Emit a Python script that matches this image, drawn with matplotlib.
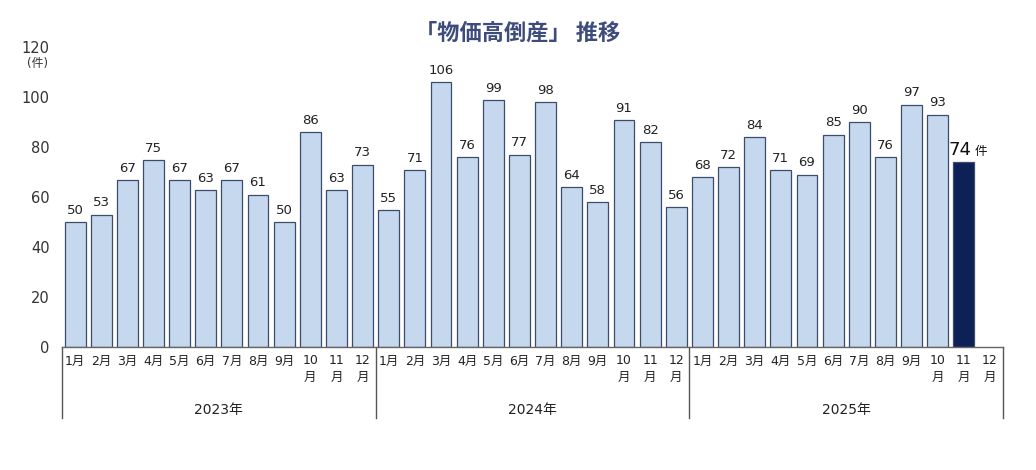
import matplotlib.pyplot as plt
import numpy as np

plt.rcParams['font.family'] = ['DejaVu Sans', 'Noto Sans CJK JP']

years = ["2023年", "2024年", "2025年"]
months = ["1月", "2月", "3月", "4月", "5月", "6月", "7月", "8月", "9月", "10\n月", "11\n月", "12\n月"]
counts_2023 = [50, 53, 67, 75, 67, 63, 67, 61, 50, 86, 63, 73]
counts_2024 = [55, 71, 106, 76, 99, 77, 98, 64, 58, 91, 82, 56]
counts_2025 = [68, 72, 84, 71, 69, 85, 90, 76, 97, 93, 74]
yticks = [0, 20, 40, 60, 80, 100, 120]

light = "#c5d8ee"
dark = "#0d2156"
edge = "#3c4c6c"

fig = plt.figure(figsize=(10.36, 4.7), dpi=100)
ax = fig.add_axes([62 / 1036, 1 - 347 / 470, (1003 - 62) / 1036, 300 / 470])

values = counts_2023 + counts_2024 + counts_2025
n = len(years) * len(months)
x = np.arange(len(values))
colors = [light] * (len(values) - 1) + [dark]
ax.bar(x, values, width=0.8, color=colors, edgecolor=edge, linewidth=0.9)

for i, v in enumerate(values[:-1]):
    ax.text(i, v + 2, str(v), ha='center', va='bottom', fontsize=9.5, color='#222222')
last = len(values) - 1
ax.annotate(str(values[-1]), (last, values[-1]), xytext=(-3, 2), textcoords='offset points',
            ha='center', va='bottom', fontsize=13, color='#111111')
ax.annotate("件", (last, values[-1]), xytext=(12, 3), textcoords='offset points',
            ha='center', va='bottom', fontsize=9, color='#111111')

ax.set_xlim(-0.5, n - 0.5)
ax.set_ylim(0, 120)
ax.set_yticks(yticks)
ax.set_yticklabels([str(t) for t in yticks], fontsize=10.5, color='#333333')
ax.tick_params(axis='y', length=0, pad=9)
ax.text(-25 / 941, 113.5, "(件)", transform=ax.get_yaxis_transform(), ha='center', va='center',
        fontsize=8.5, color='#333333')

ax.set_xticks([])
for s in ['top', 'right', 'left']:
    ax.spines[s].set_visible(False)
ax.spines['bottom'].set_color('#666666')
ax.spines['bottom'].set_linewidth(1.0)

# month and year labels below axis
for i in range(n):
    ax.text(i, -3, months[i % 12], ha='center', va='top', fontsize=9, color='#222222',
            linespacing=1.3)
for k, yr in enumerate(years):
    ax.text(k * 12 + 5.5, -22.5, yr, ha='center', va='top', fontsize=10, color='#222222')
for k in range(len(years) + 1):
    ax.plot([k * 12 - 0.5, k * 12 - 0.5], [0, -28.5], color='#555555', linewidth=1.0,
            clip_on=False)

fig.text(0.5, 1 - 33 / 470, "「物価高倒産」 推移", ha='center', va='center', fontsize=16,
         fontweight='bold', color='#3d4c7a', family='Noto Sans CJK JP')

fig.savefig("out.png", dpi=100)
